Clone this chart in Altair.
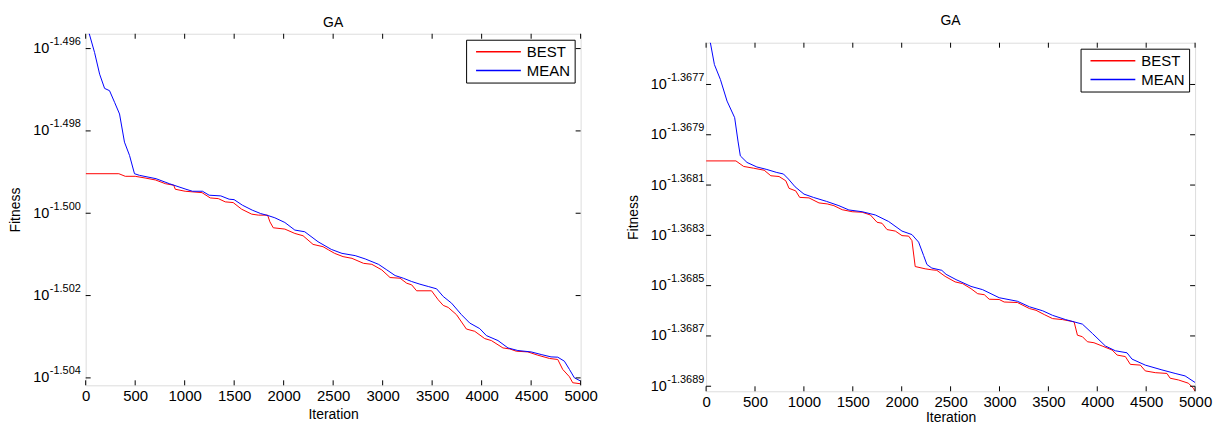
import altair as alt
import pandas as pd

FONT = "Liberation Sans"

# ---------------- data ----------------
X_TICKS = [0, 500, 1000, 1500, 2000, 2500, 3000, 3500, 4000, 4500, 5000]

L_BEST_IT = [0, 335, 400, 500, 600, 705, 805, 890, 905, 1005, 1175, 1258, 1340, 1410, 1490, 1575, 1677, 1745, 1838, 1861,
             1895, 2012, 2113, 2196, 2297, 2398, 2455, 2515, 2600, 2690, 2807, 2891, 2991, 3075, 3176, 3243, 3293, 3343, 3494, 3561,
             3612, 3662, 3746, 3846, 3930, 4031, 4098, 4215, 4283, 4350, 4467, 4568, 4686, 4769, 4819, 4887, 4920, 5000]
L_BEST_VAL = [-1.49904, -1.49904, -1.499103, -1.499103, -1.499144, -1.499192, -1.499282, -1.49932, -1.499417, -1.499466,
              -1.499499, -1.499628, -1.499645, -1.499724, -1.499741, -1.499901, -1.500022, -1.500046, -1.500046, -1.500208,
              -1.500353, -1.500385, -1.500491, -1.500547, -1.500757, -1.500813, -1.500892, -1.500975, -1.501054, -1.501096,
              -1.501217, -1.501241, -1.501376, -1.501562, -1.501579, -1.5017, -1.501739, -1.501884, -1.501884, -1.502102,
              -1.502239, -1.502288, -1.502464, -1.502813, -1.502868, -1.503045, -1.503093, -1.503272, -1.503296, -1.503352,
              -1.503369, -1.503449, -1.503528, -1.503553, -1.503794, -1.503973, -1.504118, -1.504143]
L_MEAN_IT = [0, 33, 90, 141, 191, 241, 292, 342, 392, 443, 493, 543, 711, 845, 1013, 1079, 1180, 1247, 1365, 1449,
             1499, 1583, 1683, 1767, 1851, 1911, 2012, 2113, 2213, 2347, 2481, 2589, 2723, 2824, 2958, 3042, 3126, 3209, 3293, 3377,
             3461, 3545, 3612, 3696, 3796, 3880, 3981, 4048, 4165, 4266, 4366, 4500, 4601, 4701, 4769, 4836, 4887, 4937, 5000]
L_MEAN_VAL = [-1.4955, -1.495613, -1.496097, -1.496622, -1.496967, -1.497023, -1.497306, -1.497589, -1.498273, -1.498595,
              -1.49904, -1.499079, -1.499161, -1.499282, -1.499417, -1.499466, -1.499466, -1.499562, -1.499579, -1.499659,
              -1.499669, -1.499804, -1.499925, -1.500007, -1.500063, -1.500111, -1.500225, -1.500409, -1.50045, -1.500692,
              -1.500878, -1.500975, -1.50103, -1.50111, -1.501241, -1.501376, -1.501514, -1.501579, -1.501659, -1.501724,
              -1.50178, -1.501836, -1.502022, -1.502184, -1.502464, -1.502668, -1.502803, -1.502972, -1.503093, -1.503272,
              -1.503335, -1.503369, -1.503432, -1.50349, -1.503497, -1.503594, -1.503794, -1.503998, -1.504077]
L_Y_TICKS = [-1.496, -1.498, -1.500, -1.502, -1.504]
L_Y_EXPS = ["-1.496", "-1.498", "-1.500", "-1.502", "-1.504"]
L_DOMAIN = [-1.50418, -1.49564]

R_BEST_IT = [0, 305, 384, 486, 594, 662, 746, 815, 848, 916, 957, 1052, 1154, 1239, 1307, 1392, 1494, 1596, 1680, 1748,
             1799, 1850, 1935, 2003, 2071, 2105, 2138, 2240, 2308, 2359, 2444, 2546, 2624, 2709, 2777, 2845, 2895, 2997, 3048, 3183,
             3306, 3374, 3458, 3543, 3645, 3763, 3797, 3848, 3899, 3966, 4050, 4152, 4203, 4287, 4338, 4440, 4491, 4593, 4712, 4745,
             4830, 4932, 4983, 5000]
R_BEST_VAL = [-1.368004, -1.368004, -1.368026, -1.368033, -1.368041, -1.368063, -1.368066, -1.368083, -1.368113, -1.368123,
              -1.368149, -1.368151, -1.368171, -1.368175, -1.368182, -1.368198, -1.368206, -1.368208, -1.368219, -1.368248,
              -1.368252, -1.368277, -1.368283, -1.368301, -1.368303, -1.368321, -1.368424, -1.368433, -1.368437, -1.368439,
              -1.368463, -1.368485, -1.368492, -1.368512, -1.368532, -1.368536, -1.368554, -1.368555, -1.368565, -1.368567,
              -1.368591, -1.368598, -1.368615, -1.368631, -1.368635, -1.368644, -1.368697, -1.368703, -1.368723, -1.368727,
              -1.36874, -1.368756, -1.368776, -1.368782, -1.368813, -1.368816, -1.368839, -1.368846, -1.368849, -1.368868,
              -1.368875, -1.368888, -1.368908, -1.36892]
R_MEAN_IT = [0, 44, 85, 146, 214, 292, 326, 350, 418, 519, 621, 723, 791, 842, 910, 1001, 1097, 1232, 1358, 1460,
             1596, 1731, 1867, 2003, 2105, 2173, 2224, 2258, 2308, 2410, 2454, 2556, 2709, 2828, 2997, 3183, 3306, 3442, 3543, 3676,
             3763, 3848, 3950, 4083, 4185, 4304, 4355, 4491, 4661, 4796, 4898, 5000]
R_MEAN_VAL = [-1.3675, -1.367535, -1.367621, -1.36768, -1.367766, -1.367832, -1.367925, -1.367984, -1.36801, -1.368028,
              -1.368038, -1.36805, -1.368056, -1.368076, -1.368107, -1.368136, -1.368149, -1.368165, -1.368182, -1.368199,
              -1.368206, -1.368219, -1.368245, -1.368283, -1.368297, -1.368327, -1.36838, -1.368416, -1.36843, -1.368439,
              -1.368455, -1.368476, -1.368503, -1.368516, -1.368548, -1.368562, -1.368584, -1.3686, -1.368618, -1.368635,
              -1.368644, -1.368653, -1.36869, -1.36874, -1.368759, -1.368767, -1.368792, -1.368816, -1.368835, -1.368849,
              -1.368859, -1.368885]
R_Y_TICKS = [-1.3677, -1.3679, -1.3681, -1.3683, -1.3685, -1.3687, -1.3689]
R_Y_EXPS = ["-1.3677", "-1.3679", "-1.3681", "-1.3683", "-1.3685", "-1.3687", "-1.3689"]
R_DOMAIN = [-1.36892, -1.367534]

SERIES = ["BEST", "MEAN"]
COLORS = ["#ff0000", "#0000ff"]


def title_params():
    return alt.TitleParams("GA", font=FONT, fontSize=14, fontWeight="normal", color="black",
                           offset=3, anchor="middle")


def make_legend():
    return alt.Legend(orient="top-right", offset=6, title=None,
                      symbolType="stroke", symbolSize=2025, symbolStrokeWidth=1.5,
                      clipHeight=16, rowPadding=3, padding=4,
                      symbolOffset=5, labelOffset=5,
                      labelFont=FONT, labelFontSize=15, labelColor="black",
                      fillColor="white", strokeColor="black")


def panel(best_it, best_v, mean_it, mean_v, domain, yticks, yexps, width, height,
          label_pad, exp_x, xtitle_pad):
    df = pd.DataFrame({
        "Iteration": best_it + mean_it,
        "Fitness": best_v + mean_v,
        "series": [SERIES[0]] * len(best_it) + [SERIES[1]] * len(mean_it),
    })
    xs = alt.Scale(domain=[0, 5000], nice=False, zero=False)
    ys = alt.Scale(domain=domain, nice=False, zero=False)
    x = alt.X("Iteration:Q", scale=xs,
              axis=alt.Axis(values=X_TICKS, format="d", ticks=False, tickSize=0, domain=False, grid=False,
                            labelPadding=3, labelFlush=False, labelFont=FONT, labelFontSize=15,
                            labelColor="black", title="Iteration", titleFont=FONT, titleFontSize=14,
                            titleFontWeight="normal", titleColor="black", titlePadding=xtitle_pad))
    y = alt.Y("Fitness:Q", scale=ys,
              axis=alt.Axis(values=yticks, labelExpr="'10'", ticks=False, tickSize=0, domain=False,
                            grid=False, labelPadding=label_pad, labelFont=FONT, labelFontSize=14.5,
                            labelColor="black", title="Fitness", titleFont=FONT, titleFontSize=14,
                            titleFontWeight="normal", titleColor="black", titlePadding=10))
    lines = alt.Chart(df).mark_line(clip=True, strokeWidth=1).encode(
        x=x, y=y,
        color=alt.Color("series:N", scale=alt.Scale(domain=SERIES, range=COLORS), legend=make_legend()),
    )
    ydf = pd.DataFrame({"Fitness": yticks, "exp": yexps})
    xdf = pd.DataFrame({"Iteration": X_TICKS})
    exps = alt.Chart(ydf).mark_text(align="left", baseline="middle", dy=-6.5, font=FONT,
                                    fontSize=11, color="black").encode(
        x=alt.value(exp_x), y=alt.Y("Fitness:Q", scale=ys), text="exp:N")
    yt_l = alt.Chart(ydf).mark_rule(color="black").encode(
        y=alt.Y("Fitness:Q", scale=ys), x=alt.value(0), x2=alt.value(5))
    yt_r = alt.Chart(ydf).mark_rule(color="black").encode(
        y=alt.Y("Fitness:Q", scale=ys), x=alt.value(width - 5), x2=alt.value(width))
    xt_b = alt.Chart(xdf).mark_rule(color="black").encode(
        x=alt.X("Iteration:Q", scale=xs), y=alt.value(height - 5), y2=alt.value(height))
    xt_t = alt.Chart(xdf).mark_rule(color="black").encode(
        x=alt.X("Iteration:Q", scale=xs), y=alt.value(0), y2=alt.value(5))
    return alt.layer(lines, exps, yt_l, yt_r, xt_b, xt_t).properties(width=width, height=height)


left = panel(L_BEST_IT, L_BEST_VAL, L_MEAN_IT, L_MEAN_VAL, L_DOMAIN, L_Y_TICKS, L_Y_EXPS,
             497, 353, 37, -36, 4).properties(title=title_params())
right_panel = panel(R_BEST_IT, R_BEST_VAL, R_MEAN_IT, R_MEAN_VAL, R_DOMAIN, R_Y_TICKS, R_Y_EXPS,
                    491, 350, 40, -39, 1)
# thin invisible strip above the right plot (its frame sits a few pixels lower); carries the title
spacer = alt.Chart(pd.DataFrame({"v": [0]})).mark_point(opacity=0).encode(
    x=alt.value(0), y=alt.value(0)
).properties(width=491, height=7, view=alt.ViewBackground(stroke="transparent"),
             title=title_params())
right = alt.vconcat(spacer, right_panel, spacing=0).resolve_scale(
    color="independent"
).resolve_legend(color="independent")

chart = alt.hconcat(left, right, spacing=27).resolve_scale(
    color="independent", x="independent", y="independent"
).resolve_legend(color="independent").properties(
    padding={"left": 0, "top": 4, "right": 0, "bottom": 0}
).configure_view(stroke="black", strokeWidth=1).configure(background="white")

chart.save("out.html", embed_options={"renderer": "svg", "actions": False})
